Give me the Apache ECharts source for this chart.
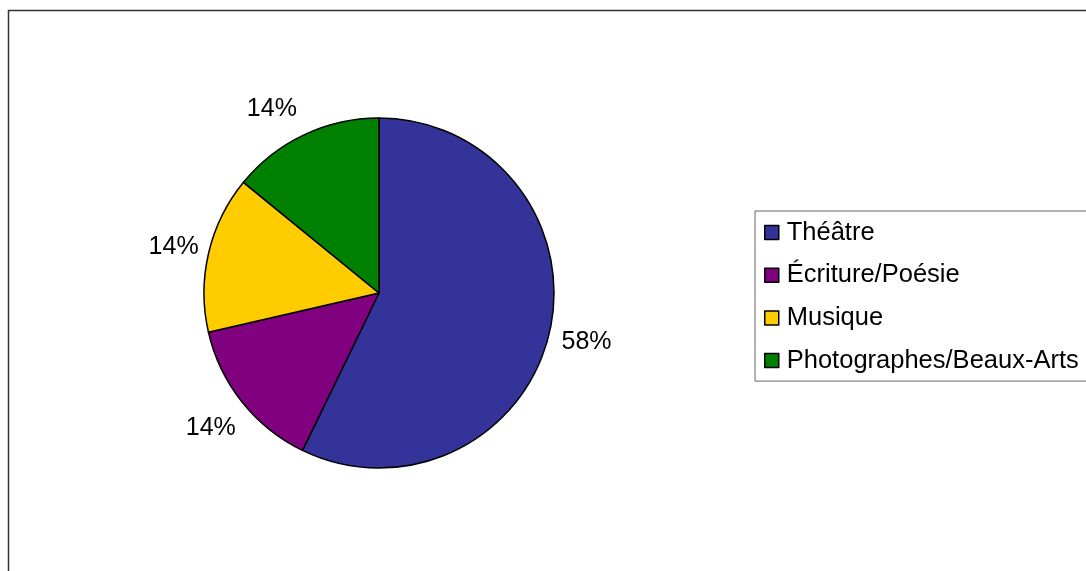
<!DOCTYPE html>
<html>
<head>
<meta charset="utf-8">
<script src="https://cdn.jsdelivr.net/npm/echarts@6/dist/echarts.min.js"></script>
<style>
html,body{margin:0;padding:0;background:#fff;}
#chart{width:1086px;height:571px;}
</style>
</head>
<body>
<div id="chart"></div>
<script>
// Data
const categories = ['Théâtre', 'Écriture/Poésie', 'Musique', 'Photographes/Beaux-Arts'];
const shares = [57.2, 14.2, 14.5, 14.1];           // slice sizes as drawn
const percentLabels = ['58%', '14%', '14%', '14%']; // labels as printed
const colors = ['#333399', '#800080', '#FFCC00', '#008000'];

const FONT = 'Arial, "Liberation Sans", sans-serif';
const chart = echarts.init(document.getElementById('chart'), null, {renderer: 'canvas'});

const labelOffsets = [[-2, 1], [0, 1], [4, 3], [-15, 10]];

const pieData = categories.map((c, i) => ({
  name: c,
  value: shares[i],
  itemStyle: {color: colors[i]}
}));
const labelData = categories.map((c, i) => ({
  name: c,
  value: shares[i],
  label: {formatter: percentLabels[i], offset: labelOffsets[i]}
}));

chart.setOption({
  animation: false,
  backgroundColor: '#fff',
  graphic: [{
    type: 'rect',
    shape: {x: 8.5, y: 10.5, width: 1200, height: 800},
    style: {fill: 'none', stroke: '#333', lineWidth: 1.5},
    silent: true,
    z: 100
  }],
  legend: {
    orient: 'vertical',
    left: 755,
    top: 211,
    padding: [8.5, 400, 7.5, 9],
    itemGap: 16.7,
    itemWidth: 14,
    itemHeight: 14,
    icon: 'rect',
    borderColor: '#666',
    borderWidth: 1,
    selectedMode: false,
    data: categories,
    itemStyle: {borderColor: '#000', borderWidth: 1.5},
    textStyle: {fontFamily: FONT, fontSize: 25.5, color: '#000', lineHeight: 25.5, padding: [0, 0, 0, 3]}
  },
  series: [{
    type: 'pie',
    name: 'main',
    center: [379, 293],
    radius: [0, 175],
    startAngle: 90,
    clockwise: true,
    avoidLabelOverlap: false,
    silent: true,
    label: {show: false},
    labelLine: {show: false},
    itemStyle: {borderColor: '#000', borderWidth: 1.5},
    data: pieData
  }, {
    type: 'pie',
    name: 'labels',
    center: [379, 293],
    radius: [205, 219],
    startAngle: 90,
    clockwise: true,
    avoidLabelOverlap: false,
    silent: true,
    legendHoverLink: false,
    itemStyle: {color: 'rgba(0,0,0,0)', borderWidth: 0},
    label: {show: true, position: 'inside', fontFamily: FONT, fontSize: 25, color: '#000'},
    labelLine: {show: false},
    data: labelData
  }]
});
</script>
</body>
</html>
